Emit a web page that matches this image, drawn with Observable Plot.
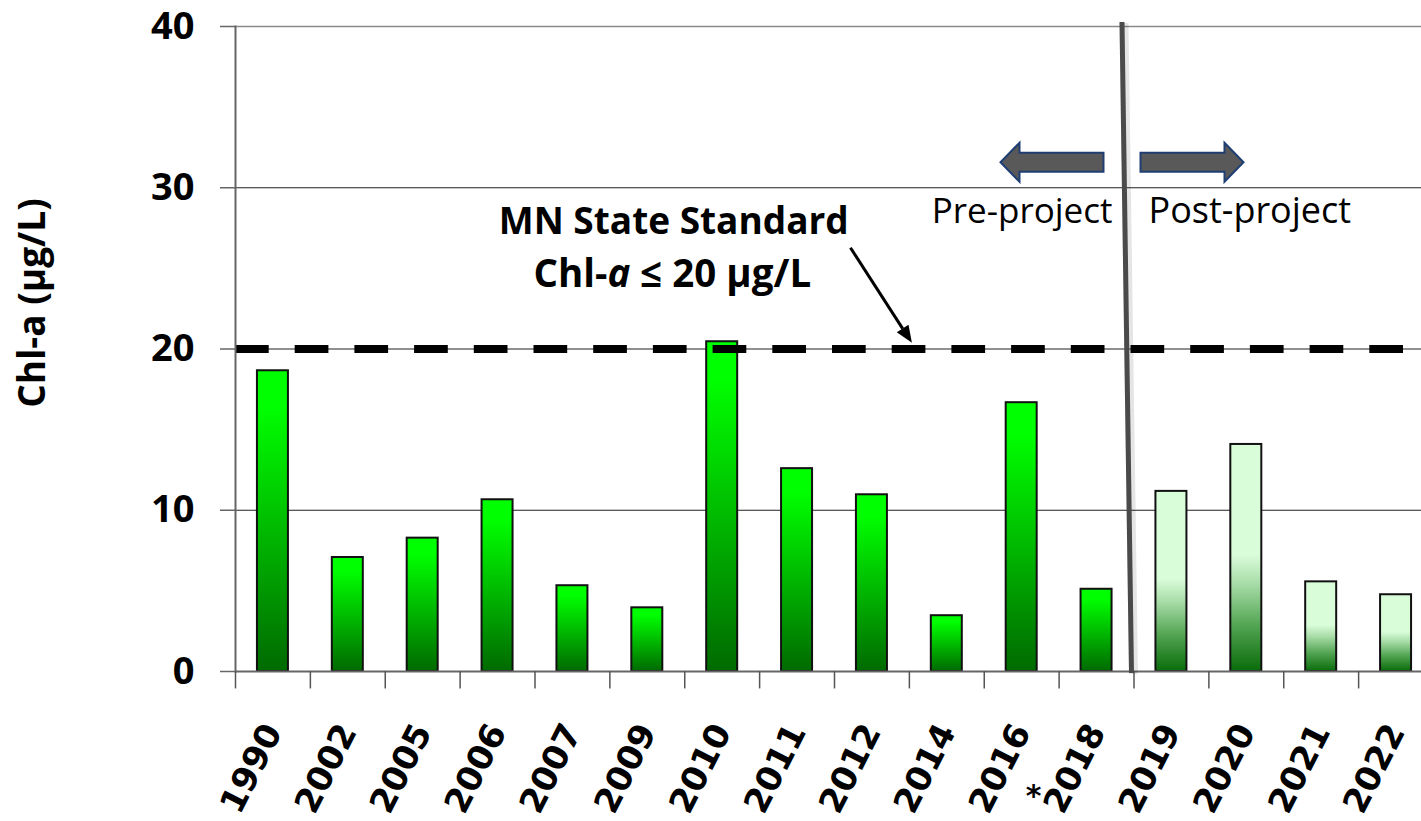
<!DOCTYPE html>
<html><head><meta charset="utf-8">
<script src="https://cdn.jsdelivr.net/npm/d3@7"></script>
<script src="https://cdn.jsdelivr.net/npm/@observablehq/plot@0.6"></script>
<style>
html,body{margin:0;padding:0;background:#fff;overflow:hidden;}
#chart svg{display:block;max-width:none !important;width:1433px !important;height:821px !important;}
</style></head><body><div id="chart"></div>
<script>
// ---- data ----
const years  = ["1990","2002","2005","2006","2007","2009","2010","2011","2012","2014","2016","2018","2019","2020","2021","2022"];
const chlA   = [18.65, 7.07, 8.27, 10.65, 5.32, 3.95, 20.45, 12.58, 10.96, 3.46, 16.67, 5.1, 11.17, 14.08, 5.56, 4.76];
const phases = ["pre","pre","pre","pre","pre","pre","pre","pre","pre","pre","pre","pre","post","post","post","post"];
const yTicks = [0, 10, 20, 30, 40];
const gridValues = [10, 20, 30];
const topGrid = [40];
const standardValue = 20;
const standardLabel = ["MN State Standard", "Chl-", "a", " ≤ 20 µg/L"];
const phaseLabels = ["Pre-project", "Post-project"];
const notes = [{year: "2018", mark: "*"}];
const yLabel = "Chl-a (µg/L)";

const table = years.map((year, i) => ({year, value: chlA[i], phase: phases[i]}));

const NS = "http://www.w3.org/2000/svg";
function el(tag, attrs = {}, text) {
  const e = document.createElementNS(NS, tag);
  for (const k in attrs) e.setAttribute(k, attrs[k]);
  if (text != null) e.textContent = text;
  return e;
}

function gradients() {
  const defs = el("defs");
  const pre = el("linearGradient", {id: "gPre", x1: 0, y1: 0, x2: 0, y2: 1});
  [[0, "#00ff00"], [0.12, "#00ff00"], [1, "#006a00"]].forEach(([o, c]) => pre.appendChild(el("stop", {offset: o, "stop-color": c})));
  const post = el("linearGradient", {id: "gPost", x1: 0, y1: 0, x2: 0, y2: 1});
  [[0, "#d9fcd9"], [0.49, "#d9fcd9"], [0.62, "#a6dba6"], [0.8, "#52a452"], [1, "#0a6c0a"]].forEach(([o, c]) => post.appendChild(el("stop", {offset: o, "stop-color": c})));
  defs.appendChild(pre); defs.appendChild(post);
  return defs;
}

function annotations(index, scales) {
  const x = scales.x, y = scales.y;
  const bw = x.bandwidth();
  const step = x.step();
  const c = (yr) => x(yr) + bw / 2;
  const b = x("2019") - (step - bw) / 2; // boundary between 2018 and 2019
  const g = el("g");

  // standard annotation text
  const font = "Open Sans, sans-serif";
  g.appendChild(el("text", {x: c("2009") + 0.36 * step, y: y(27.1), "text-anchor": "middle",
    "font-family": font, "font-weight": "bold", "font-size": 37, fill: "#000"}, standardLabel[0]));
  const t2 = el("text", {x: c("2009") + 0.34 * step, y: y(23.8), "text-anchor": "middle",
    "font-family": font, "font-weight": "bold", "font-size": 38.5, fill: "#000"});
  t2.appendChild(el("tspan", {}, standardLabel[1]));
  t2.appendChild(el("tspan", {"font-style": "italic"}, standardLabel[2]));
  t2.appendChild(el("tspan", {}, standardLabel[3]));
  g.appendChild(t2);

  // pointer arrow
  const ax1 = c("2012") - 0.28 * step, ay1 = y(26.25);
  const ax2 = c("2014") - 0.46 * step, ay2 = y(20.35);
  const ang = Math.atan2(ay2 - ay1, ax2 - ax1);
  const hl = 17, hw = 7;
  const bx = ax2 - hl * Math.cos(ang), by = ay2 - hl * Math.sin(ang);
  g.appendChild(el("line", {x1: ax1, y1: ay1, x2: bx, y2: by, stroke: "#000", "stroke-width": 3}));
  g.appendChild(el("path", {d: `M${ax2},${ay2}L${bx - hw * Math.sin(ang)},${by + hw * Math.cos(ang)}L${bx + hw * Math.sin(ang)},${by - hw * Math.cos(ang)}Z`, fill: "#000"}));

  // divider line (soft shadow + line)
  g.appendChild(el("line", {x1: b - 9.5, y1: y(40.25) + 1, x2: b, y2: y(0) + 3, stroke: "#000", "stroke-opacity": 0.1, "stroke-width": 9}));
  g.appendChild(el("line", {x1: b - 11.5, y1: y(40.25), x2: b - 2, y2: y(0) + 2, stroke: "#4a4a4a", "stroke-width": 5}));

  // block arrows
  const cy = y(31.55);
  const arrowStyle = {fill: "#595959", stroke: "#1f3f74", "stroke-width": 2};
  {
    const tip = b - 133, hb = b - 114, tail = b - 30;
    g.appendChild(el("path", Object.assign({d: `M${tip},${cy}L${hb},${cy - 19.5}L${hb},${cy - 9.5}L${tail},${cy - 9.5}L${tail},${cy + 9.5}L${hb},${cy + 9.5}L${hb},${cy + 19.5}Z`}, arrowStyle)));
  }
  {
    const tail = b + 7, hb = b + 91, tip = b + 110;
    g.appendChild(el("path", Object.assign({d: `M${tip},${cy}L${hb},${cy - 19.5}L${hb},${cy - 9.5}L${tail},${cy - 9.5}L${tail},${cy + 9.5}L${hb},${cy + 9.5}L${hb},${cy + 19.5}Z`}, arrowStyle)));
  }
  g.appendChild(el("text", {x: b - 21, y: y(27.8), "text-anchor": "end", "font-family": font, "font-size": 35, fill: "#000"}, phaseLabels[0]));
  g.appendChild(el("text", {x: b + 15, y: y(27.8), "text-anchor": "start", "font-family": font, "font-size": 36, fill: "#000"}, phaseLabels[1]));
  return g;
}

const chart = Plot.plot({
  width: 1433,
  height: 821,
  marginLeft: 235,
  marginRight: 0,
  marginTop: 26,
  marginBottom: 150,
  style: {background: "#fff", overflow: "visible"},
  x: {domain: years, paddingInner: 0.586, paddingOuter: 0.293, round: false},
  y: {domain: [0, 40]},
  marks: [
    gradients,
    Plot.ruleY(gridValues, {stroke: "#222", strokeWidth: 1.2}),
    Plot.ruleY(topGrid, {stroke: "#8a8a8a", strokeWidth: 1.5}),
    Plot.barY(table.filter(d => d.phase === "pre"), {x: "year", y: "value", fill: "url(#gPre)", stroke: "#111", strokeWidth: 2}),
    Plot.barY(table.filter(d => d.phase === "post"), {x: "year", y: "value", fill: "url(#gPost)", stroke: "#111", strokeWidth: 2}),
    Plot.ruleY([standardValue], {stroke: "#000", strokeWidth: 8, strokeDasharray: "33.7 26"}),
    Plot.frame({anchor: "left", stroke: "#666", strokeWidth: 2}),
    Plot.ruleY([0], {stroke: "#666", strokeWidth: 2}),
    Plot.ruleX(years, {x: d => d, dx: -37.44, y1: 0, y2: -1.08, stroke: "#555", strokeWidth: 1.5}),
    Plot.axisY({ticks: yTicks, tickSize: 15, tickPadding: 26, fontSize: 38, fontWeight: "bold", fontFamily: "Open Sans, sans-serif", stroke: "#666", strokeWidth: 1.5, fill: "#000", label: null}),
    Plot.axisX({tickSize: 0, tickRotate: -63, tickPadding: 55, fontSize: 34, fontWeight: "bold", fontFamily: "DejaVu Sans, sans-serif", fill: "#000", label: null}),
    Plot.text([yLabel], {frameAnchor: "left", rotate: -90, textAnchor: "middle", dx: -202, dy: -46, text: d => d, fontSize: 37, fontWeight: "bold", fontFamily: "Open Sans, sans-serif", fill: "#000"}),
    Plot.text(notes, {x: "year", frameAnchor: "bottom", text: "mark", dx: -63, dy: 134, fontSize: 30, fontWeight: "bold", fontFamily: "DejaVu Sans, sans-serif", fill: "#000"}),
    annotations
  ]
});
document.getElementById("chart").appendChild(chart);
</script>
</body></html>
